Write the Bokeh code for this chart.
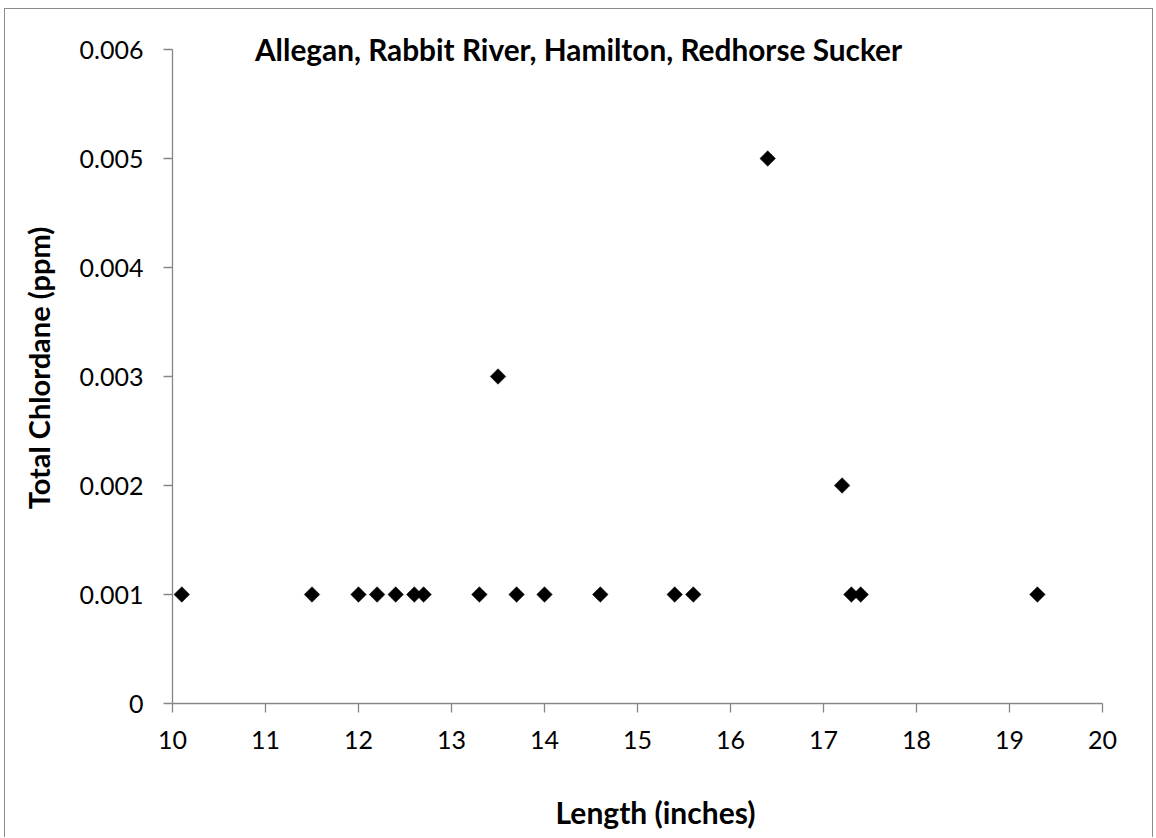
import math
from bokeh.plotting import figure
from bokeh.models import Label, FixedTicker, Range1d
from bokeh.embed import file_html
from bokeh.resources import INLINE

# ---- data ----
length_in = [10.1, 11.5, 12.0, 12.2, 12.4, 12.6, 12.7, 13.3, 13.5, 13.7,
             14.0, 14.6, 15.4, 15.6, 16.4, 17.2, 17.3, 17.4, 19.3]
chlordane_ppm = [0.001, 0.001, 0.001, 0.001, 0.001, 0.001, 0.001, 0.001, 0.003, 0.001,
                 0.001, 0.001, 0.001, 0.001, 0.005, 0.002, 0.001, 0.001, 0.001]
x_ticks = [10, 11, 12, 13, 14, 15, 16, 17, 18, 19, 20]
y_ticks = [0, 0.001, 0.002, 0.003, 0.004, 0.005, 0.006]
y_tick_labels = ["0", "0.001", "0.002", "0.003", "0.004", "0.005", "0.006"]
title_text = "Allegan, Rabbit River, Hamilton, Redhorse Sucker"
x_title = "Length (inches)"
y_title = "Total Chlordane (ppm)"

FONT = "Lato"
AX = "#868686"

# ---- layout (canvas pixels) ----
W, H = 1149, 829
AX_L, AX_R = 167, 1097      # pixel position of x = 10 and x = 20
AX_T, AX_B = 40, 694        # pixel position of y = 0.006 and y = 0 (from top)
x0, x1 = x_ticks[0], x_ticks[-1]
y0, y1 = y_ticks[0], y_ticks[-1]
sx = (x1 - x0) / (AX_R - AX_L)
sy = (y1 - y0) / (AX_B - AX_T)
x_range = Range1d(x0 - AX_L * sx, x1 + (W - AX_R) * sx)
y_range = Range1d(y0 - (H - AX_B) * sy, y1 + AX_T * sy)

p = figure(width=W, height=H, output_backend="svg", toolbar_location=None,
           x_range=x_range, y_range=y_range,
           min_border_left=0, min_border_right=0, min_border_top=0, min_border_bottom=0)
p.styles = {"border": "1px solid #8c8c8c", "border-bottom": "none",
            "margin-left": "4px", "margin-top": "8px"}
p.outline_line_color = None
p.xgrid.visible = False
p.ygrid.visible = False
p.background_fill_color = "white"
p.border_fill_color = "white"

p.scatter(length_in, chlordane_ppm, marker="square", size=11, angle=math.pi / 4,
          fill_color="black", line_color="black", line_width=0.5)

for ax in (p.xaxis[0], p.yaxis[0]):
    ax.axis_line_color = AX
    ax.axis_line_width = 1.3
    ax.major_tick_line_color = AX
    ax.major_tick_line_width = 1.3
    ax.major_tick_out = 9
    ax.major_tick_in = 0
    ax.minor_tick_line_color = None
    ax.major_label_text_font = FONT
    ax.major_label_text_font_size = "25px"
    ax.major_label_text_color = "black"

p.xaxis[0].fixed_location = y0
p.xaxis[0].bounds = (x0, x1)
p.xaxis[0].ticker = FixedTicker(ticks=x_ticks)
p.xaxis[0].major_label_standoff = 18
p.yaxis[0].fixed_location = x0
p.yaxis[0].bounds = (y0, y1)
p.yaxis[0].ticker = FixedTicker(ticks=y_ticks)
p.yaxis[0].major_label_overrides = {t: s for t, s in zip(y_ticks, y_tick_labels)}
p.yaxis[0].major_label_standoff = 20

common = dict(x_units="screen", y_units="screen", text_font=FONT, text_font_style="bold",
              text_color="black", text_baseline="middle", text_align="center")
p.add_layout(Label(x=573, y=H - 40, text=title_text, text_font_size="29.8px", **common))
p.add_layout(Label(x=650, y=H - 802, text=x_title, text_font_size="30px", **common))
p.add_layout(Label(x=33, y=H - 358.5, text=y_title, angle=math.pi / 2,
                   text_font_size="29px", **common))

open("out.html", "w").write(file_html(p, INLINE))
